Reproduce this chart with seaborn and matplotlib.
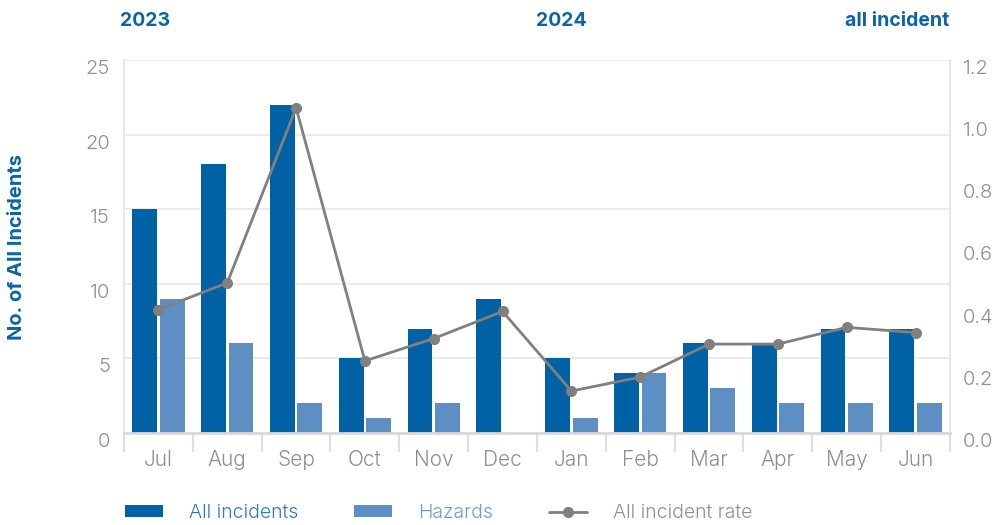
import numpy as np
import pandas as pd
import matplotlib
matplotlib.use("Agg")
import matplotlib.pyplot as plt
import seaborn as sns
from matplotlib.transforms import ScaledTranslation
from matplotlib.lines import Line2D
from matplotlib.patches import Patch

# ---- data ----
months = ["Jul", "Aug", "Sep", "Oct", "Nov", "Dec", "Jan", "Feb", "Mar", "Apr", "May", "Jun"]
all_incidents = [15, 18, 22, 5, 7, 9, 5, 4, 6, 6, 7, 7]
hazards = [9, 6, 2, 1, 2, 0, 1, 4, 3, 2, 2, 2]
incident_rate = [0.397, 0.483, 1.046, 0.232, 0.304, 0.391, 0.135, 0.180, 0.286, 0.286, 0.340, 0.323]
series_names = ["All incidents", "Hazards"]
rate_name = "All incident rate"
left_ticks = [0, 5, 10, 15, 20, 25]
right_ticks = [0.0, 0.2, 0.4, 0.6, 0.8, 1.0, 1.2]
header_texts = ["2023", "2024", "all incident"]
y_label = "No. of All Incidents"

# ---- style ----
DARK = "#0062a4"
LIGHT = "#5e8fc4"
LINE = "#808080"
TICK = "#8f8f8f"
TITLE = "#0a64a6"
LIGHTW = 300

sns.set_theme(style="white")
plt.rcParams["font.family"] = ["Inter", "DejaVu Sans"]

df = pd.DataFrame({
    "Month": months * 2,
    "Count": all_incidents + hazards,
    "Series": [series_names[0]] * len(months) + [series_names[1]] * len(months),
})

fig = plt.figure(figsize=(9.95, 5.25), dpi=100)
ax = fig.add_axes([124 / 995, 1 - 433 / 525, (950 - 124) / 995, (433 - 60) / 525])

sns.barplot(data=df, x="Month", y="Count", hue="Series", order=months,
            hue_order=series_names, palette=[DARK, LIGHT], saturation=1,
            gap=0.1, linewidth=0, ax=ax, legend=False)

ax2 = ax.twinx()
sns.pointplot(x=months, y=incident_rate, color=LINE, markers="o",
              markersize=6.5, linewidth=2.0, ax=ax2)

ax.set_xlim(-0.5, len(months) - 0.5)
ax.set_ylim(0, 25)
ax2.set_ylim(0, 1.2)
ax.set_yticks(left_ticks)
ax.set_yticklabels([str(t) for t in left_ticks])
ax2.set_yticks(right_ticks)
ax2.set_yticklabels([f"{t:.1f}" for t in right_ticks])

ax.set_xlabel("")
ax.set_ylabel("")
ax2.set_xlabel("")
ax2.set_ylabel("")

ax.yaxis.grid(True, color="#e8e8e8", lw=1.2)
ax.xaxis.grid(False)
ax2.grid(False)
ax.set_axisbelow(True)

for s in ["top", "right"]:
    ax.spines[s].set_visible(False)
ax.spines["left"].set_color("#e3e3e3")
ax.spines["left"].set_linewidth(1.2)
ax.spines["bottom"].set_color("#d9d9d9")
ax.spines["bottom"].set_linewidth(2)
for s in ["top", "left", "bottom"]:
    ax2.spines[s].set_visible(False)
ax2.spines["right"].set_color("#e3e3e3")
ax2.spines["right"].set_linewidth(1.2)

# category separators
ax.set_xticks(np.arange(-0.5, len(months), 1), minor=True)
ax.tick_params(axis="x", which="minor", length=14, width=1.5, color="#dedede", direction="out", bottom=True)
ax.tick_params(axis="x", which="major", length=0, pad=12, labelsize=15, labelcolor=TICK)
ax.tick_params(axis="y", length=0, pad=10, labelsize=14.5, labelcolor=TICK)
ax2.tick_params(axis="y", length=0, pad=9.5, labelsize=14.5, labelcolor=TICK)

for lab in ax.get_xticklabels() + ax.get_yticklabels() + ax2.get_yticklabels():
    lab.set_fontweight(LIGHTW)
offset = ScaledTranslation(0, -5 / 72, fig.dpi_scale_trans)
for lab in ax.get_yticklabels() + ax2.get_yticklabels():
    lab.set_transform(lab.get_transform() + offset)

# headers
ty = 1 - 21 / 525
fig.text(120 / 995, ty, header_texts[0], color=TITLE, fontsize=14, fontweight="bold", ha="left", va="center")
fig.text(561 / 995, ty, header_texts[1], color=TITLE, fontsize=14, fontweight="bold", ha="center", va="center")
fig.text(949 / 995, ty, header_texts[2], color=TITLE, fontsize=14, fontweight="bold", ha="right", va="center")
fig.text(17 / 995, 1 - 247 / 525, y_label, color=TITLE, fontsize=14.5, fontweight="bold",
         rotation=90, ha="center", va="center")

# legend
handles = [Patch(facecolor=DARK, edgecolor="none"),
           Patch(facecolor=LIGHT, edgecolor="none"),
           Line2D([0], [0], color=LINE, lw=2.0, marker="o", markersize=7)]
labels = series_names + [rate_name]
leg = fig.legend(handles, labels, loc="center left", bbox_to_anchor=(125 / 995, 1 - 513 / 525),
                 ncol=3, frameon=False, fontsize=14, borderpad=0, borderaxespad=0,
                 handlelength=1.96, handleheight=0.57, handletextpad=1.34, columnspacing=2.85)
for t, c in zip(leg.get_texts(), ["#2f78bd", "#6f9bd0", TICK]):
    t.set_color(c)
    t.set_fontweight(LIGHTW)

fig.savefig("out.png", dpi=100)
